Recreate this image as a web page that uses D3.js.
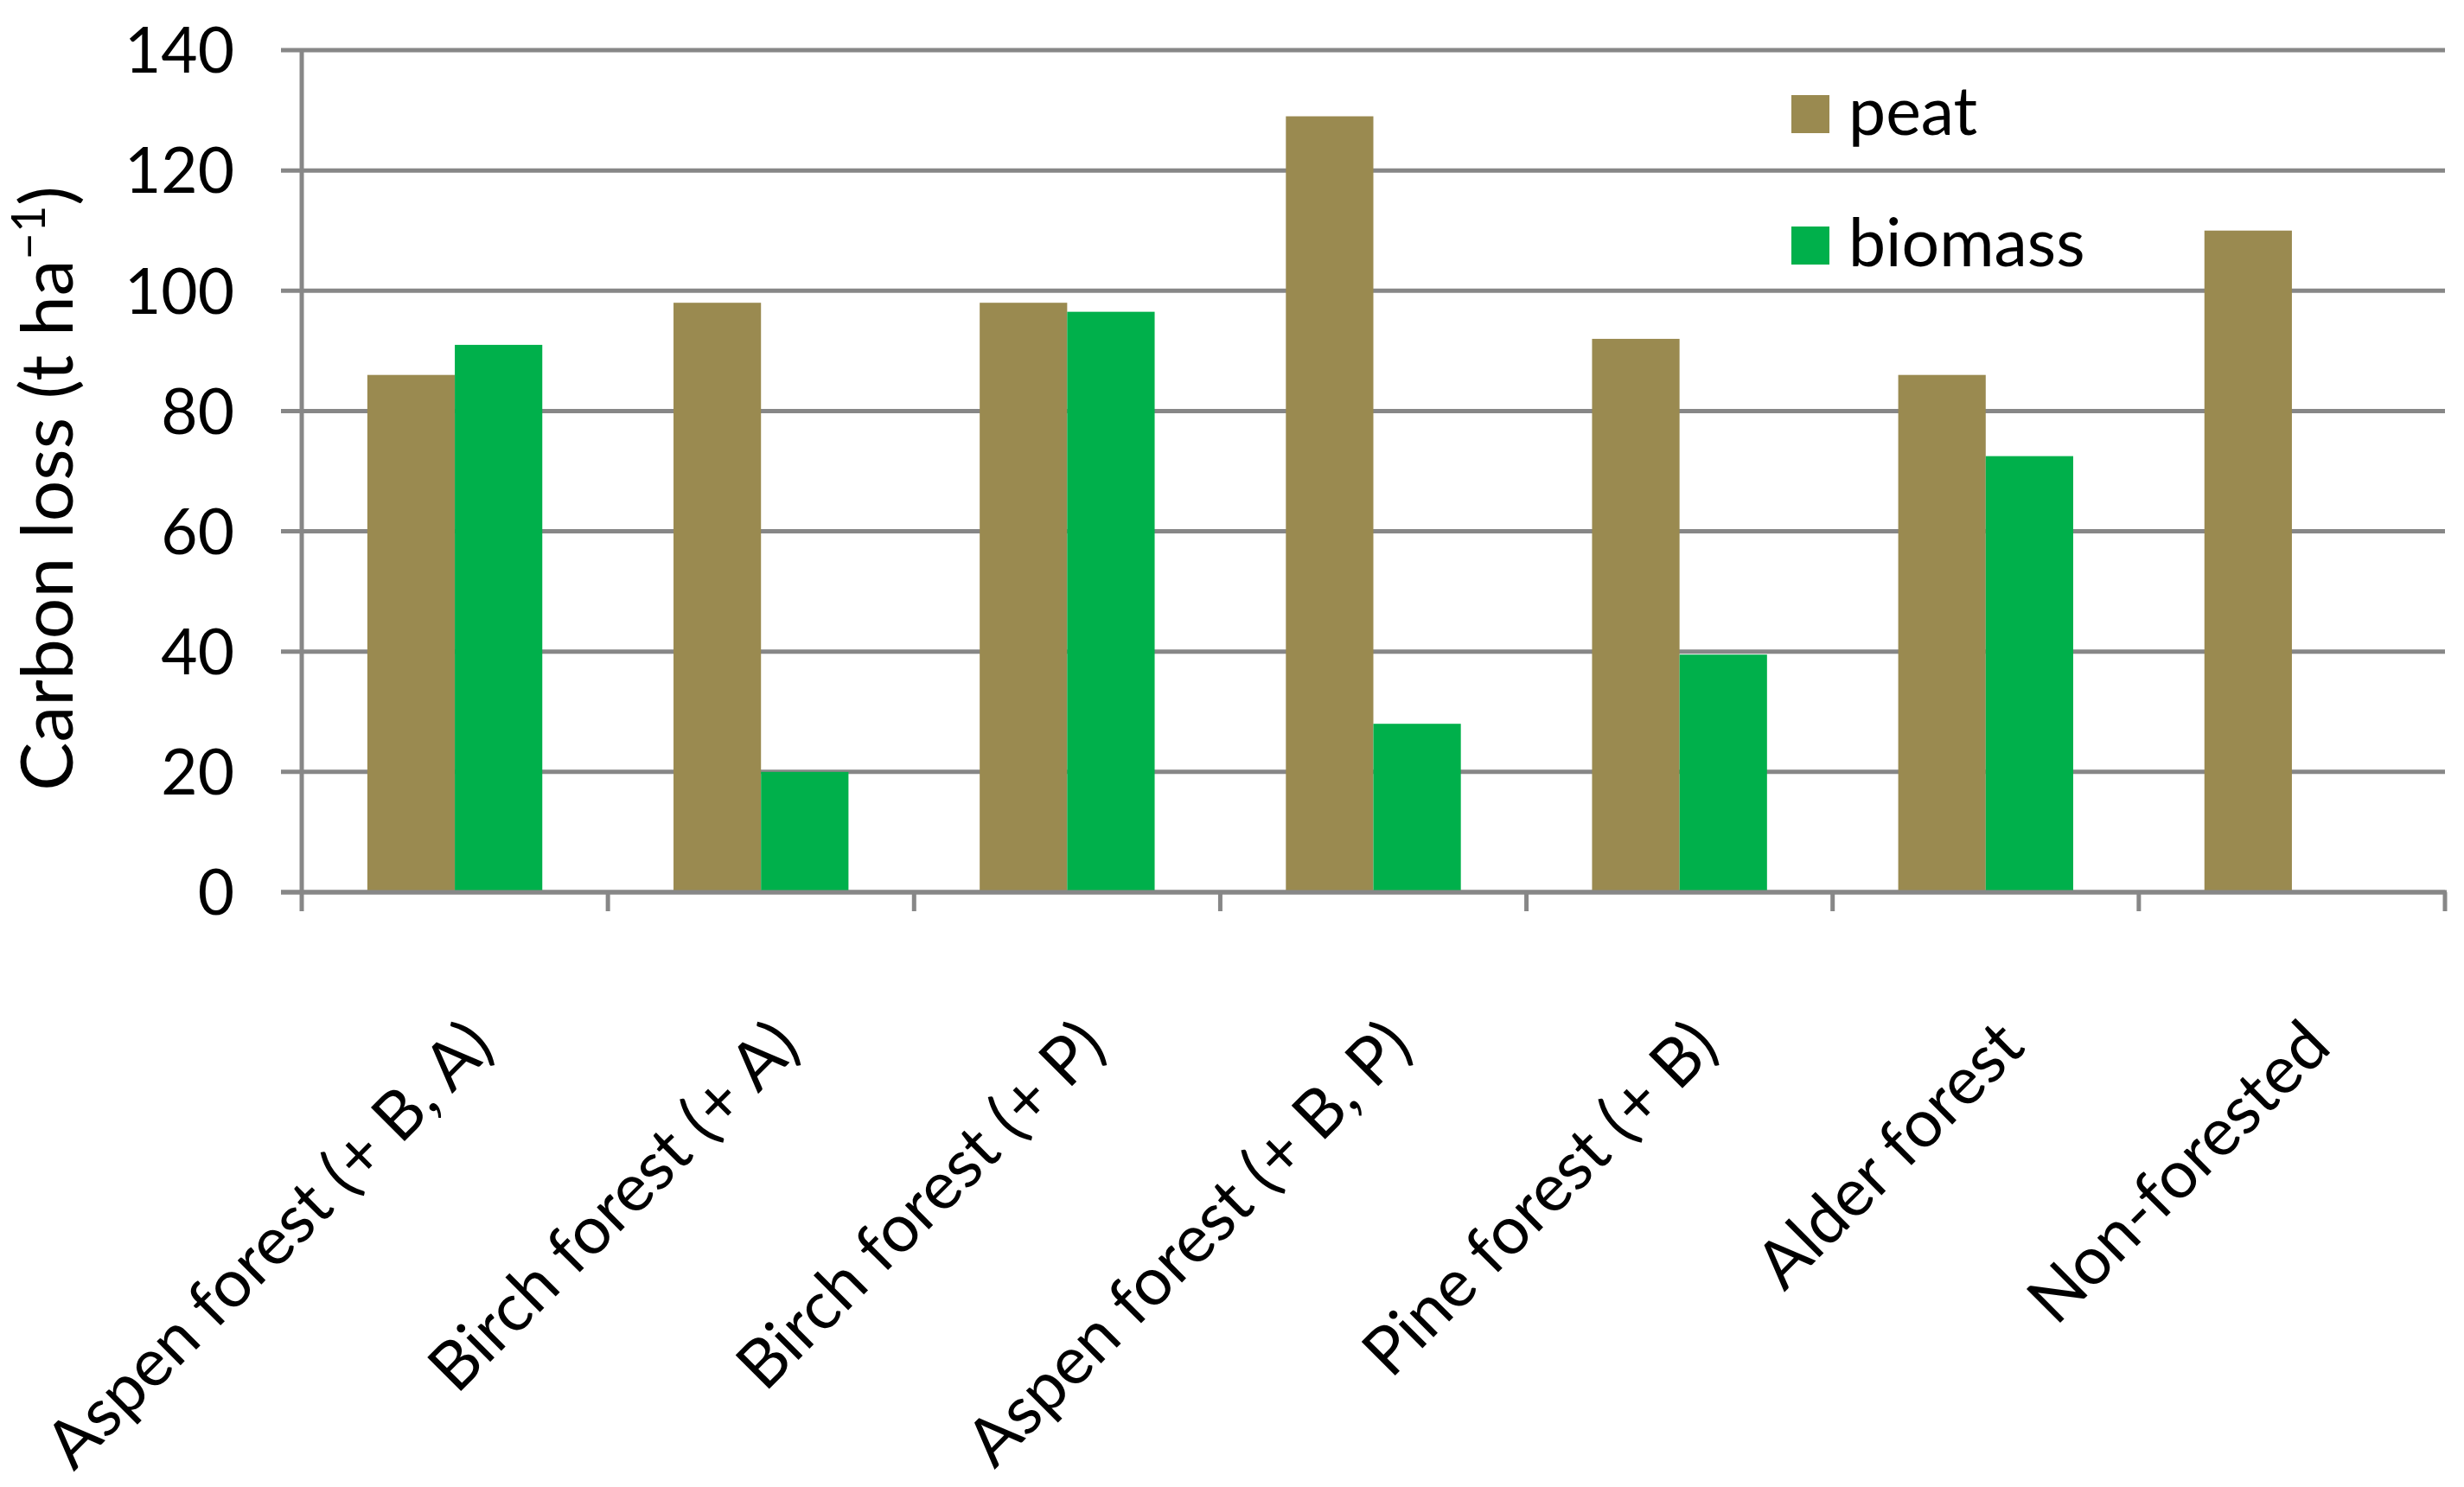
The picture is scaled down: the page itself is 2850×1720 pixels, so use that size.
<!DOCTYPE html>
<html lang="en">
<head>
    <meta charset="utf-8">
    <title>Carbon loss by forest type</title>
    <script src="https://d3js.org/d3.v7.min.js"></script>
    <style>
        body {
            margin: 0;
            background: white;
        }
        svg text {
            font-family: 'Lato', 'Open Sans', sans-serif;
            fill: #000;
        }
    </style>
</head>
<body>
    <div id="chart"></div>

    <script>
        // data
        const categories = ["Aspen forest (+ B, A)", "Birch forest (+ A)", "Birch forest (+ P)",
            "Aspen forest (+ B, P)", "Pine forest (+ B)", "Alder forest", "Non-forested"];
        const seriesNames = ["peat", "biomass"];
        const peat = [86, 98, 98, 129, 92, 86, 110];
        const biomass = [91, 20, 96.5, 28, 39.5, 72.5, 0];
        const yTicks = [0, 20, 40, 60, 80, 100, 120, 140];
        const colors = {peat: "#9A8A50", biomass: "#00B04B"};

        const W = 2850, H = 1720;
        const margin = {top: 58, right: 22, bottom: 688, left: 349};
        const width = W - margin.left - margin.right;
        const height = H - margin.top - margin.bottom;

        const svg = d3.select("#chart")
            .append("svg")
            .attr("width", W)
            .attr("height", H);

        const g = svg.append("g")
            .attr("transform", `translate(${margin.left},${margin.top})`);

        const x = d3.scaleBand()
            .domain(categories)
            .range([0, width]);

        // Excel style: gap width 150% of a bar
        const barW = x.bandwidth() / 3.5;
        const xs = d3.scaleBand()
            .domain(seriesNames)
            .range([0.75 * barW, 2.75 * barW]);

        const y = d3.scaleLinear()
            .domain([0, 140])
            .range([height, 0]);

        const gridColor = "#878787";
        const lineW = 5;

        // gridlines (with small tick stubs left of the axis)
        g.selectAll(".grid")
            .data(yTicks)
            .enter()
            .append("line")
            .attr("class", "grid")
            .attr("x1", -24)
            .attr("x2", width)
            .attr("y1", d => y(d))
            .attr("y2", d => y(d))
            .attr("stroke", gridColor)
            .attr("stroke-width", lineW);

        // bars
        const rows = categories.map((c, i) => ({cat: c, peat: peat[i], biomass: biomass[i]}));

        const groups = g.selectAll(".grp")
            .data(rows)
            .enter()
            .append("g")
            .attr("transform", d => `translate(${x(d.cat)},0)`);

        groups.selectAll("rect")
            .data(d => seriesNames.map(s => ({s: s, v: d[s]})))
            .enter()
            .append("rect")
            .attr("x", d => xs(d.s))
            .attr("y", d => y(d.v))
            .attr("width", xs.bandwidth())
            .attr("height", d => height - y(d.v))
            .attr("fill", d => colors[d.s]);

        // y axis line
        g.append("line")
            .attr("x1", 0).attr("x2", 0)
            .attr("y1", -2).attr("y2", height + 22)
            .attr("stroke", gridColor)
            .attr("stroke-width", lineW);

        // x axis line + ticks at band edges
        g.append("line")
            .attr("x1", -24).attr("x2", width + 2)
            .attr("y1", height).attr("y2", height)
            .attr("stroke", gridColor)
            .attr("stroke-width", lineW);

        const edges = categories.map(c => x(c)).concat([width]);
        g.selectAll(".xtick")
            .data(edges.slice(1))
            .enter()
            .append("line")
            .attr("x1", d => d).attr("x2", d => d)
            .attr("y1", height).attr("y2", height + 22)
            .attr("stroke", gridColor)
            .attr("stroke-width", lineW);

        // y tick labels
        g.selectAll(".ylab")
            .data(yTicks)
            .enter()
            .append("text")
            .attr("x", -78)
            .attr("y", d => y(d))
            .attr("dy", "0.36em")
            .attr("text-anchor", "end")
            .style("font-size", "73px")
            .text(d => d);

        // x labels rotated
        g.selectAll(".xlab")
            .data(categories)
            .enter()
            .append("text")
            .attr("text-anchor", "end")
            .attr("transform", d => `translate(${x(d) + x.bandwidth() / 2 + 48},${height + 182}) rotate(-45)`)
            .style("font-size", "77px")
            .text(d => d);

        // y axis title
        const yt = svg.append("text")
            .attr("text-anchor", "middle")
            .attr("transform", `translate(84,${margin.top + height / 2 + 20}) rotate(-90)`)
            .style("font-size", "84px");
        yt.append("tspan").text("Carbon loss (t ha");
        yt.append("tspan").attr("baseline-shift", "super").style("font-size", "54px").text("\u22121");
        yt.append("tspan").text(")");

        // legend
        const legend = svg.append("g")
            .attr("transform", "translate(2072,0)");
        const legendY = {peat: 110, biomass: 262};

        legend.selectAll("rect")
            .data(seriesNames)
            .enter()
            .append("rect")
            .attr("x", 0)
            .attr("y", d => legendY[d])
            .attr("width", 44)
            .attr("height", 44)
            .attr("fill", d => colors[d]);

        legend.selectAll("text")
            .data(seriesNames)
            .enter()
            .append("text")
            .attr("x", 66)
            .attr("y", d => legendY[d] + 46)
            .style("font-size", "77px")
            .text(d => d);
    </script>
</body>
</html>
